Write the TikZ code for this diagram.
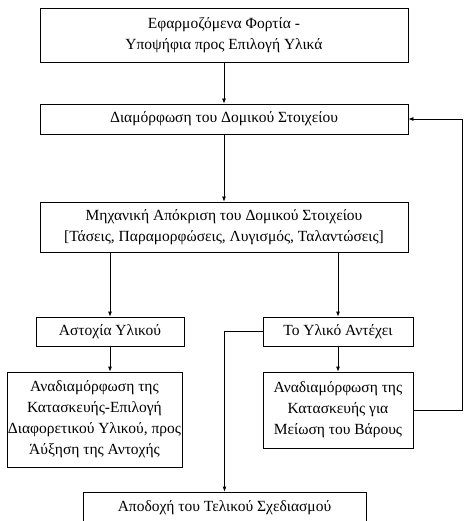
\documentclass[tikz,border=0pt]{standalone}
\usepackage{fontspec}
\setmainfont{Liberation Serif}
\usepackage{tikz}
\usetikzlibrary{arrows.meta,positioning,calc}

\begin{document}
\begin{tikzpicture}[
  x=1pt, y=-1pt,
  box/.style={draw, thick, align=center, inner sep=1pt, font=\fontsize{15.5}{21}\selectfont},
  arr/.style={-{Latex[length=5pt,width=4pt]}, thick}
]
\useasboundingbox (0,0) rectangle (463,521);

\node[box, minimum width=368pt, minimum height=54pt] (fortia) at (224,35)
  {Εφαρμοζόμενα Φορτία -\\ Υποψήφια προς Επιλογή Υλικά};
\node[box, minimum width=368pt, minimum height=30pt] (diam) at (224,119)
  {Διαμόρφωση του Δομικού Στοιχείου};
\node[box, minimum width=368pt, minimum height=50pt] (mixan) at (224,227)
  {Μηχανική Απόκριση του Δομικού Στοιχείου\\ {[}Τάσεις, Παραμορφώσεις, Λυγισμός, Ταλαντώσεις{]}};

\node[box, minimum width=148pt, minimum height=29pt] (astoxia) at (110,331.5)
  {Αστοχία Υλικού};
\node[box, minimum width=150pt, minimum height=29pt] (antexei) at (338,331.5)
  {Το Υλικό Αντέχει};

\node[box, minimum width=163pt, minimum height=95pt] (anafA) at (94.5,419.5)
  {Αναδιαμόρφωση της\\ Κατασκευής-Επιλογή\\ Διαφορετικού Υλικού, προς\\ Άύξηση της Αντοχής};
\node[box, minimum width=150pt, minimum height=76pt] (anafB) at (338,410)
  {Αναδιαμόρφωση της\\ Κατασκευής για\\ Μείωση του Βάρους};

\node[box, minimum width=283pt, minimum height=31pt] (apodoxi) at (224.5,507.5)
  {Αποδοχή του Τελικού Σχεδιασμού};

\coordinate (epistr) at (462,410);

% main path
\draw[arr] (fortia) -- (diam);
\draw[arr] (diam) -- (mixan);
\draw[arr] (mixan.south -| astoxia.north) -- (astoxia.north);
\draw[arr] (mixan.south -| antexei.north) -- (antexei.north);
\draw[arr] (astoxia.south) -- (astoxia.south |- anafA.north);
\draw[arr] (antexei) -- (anafB);

% feedback
\draw[arr] (antexei.west) -| (apodoxi.north);
\draw[arr] (anafB.east) -- (epistr) |- (diam.east);

\end{tikzpicture}
\end{document}
